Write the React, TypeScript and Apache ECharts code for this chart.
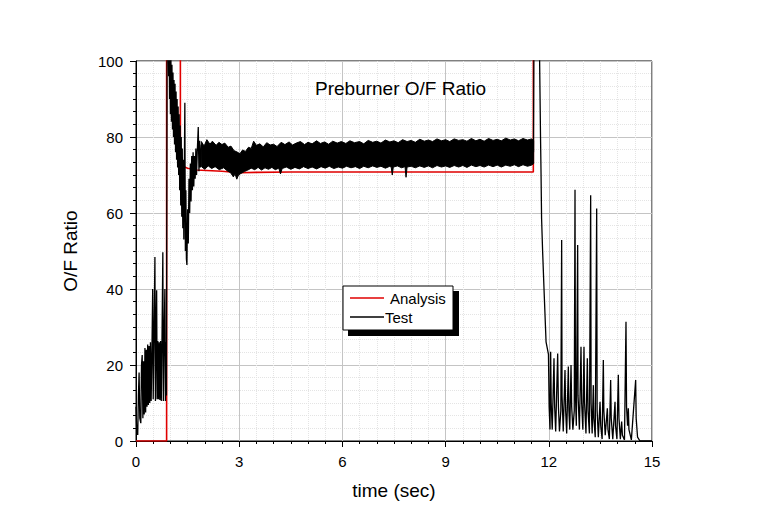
import React, { useEffect, useRef } from "react";
import * as echarts from "echarts";

// ---- data ----
const xTicks = [0, 3, 6, 9, 12, 15];
const yTicks = [0, 20, 40, 60, 80, 100];

// Analysis (red): [time, O/F]
const analysis: [number, number][] = [
  [0, 0], [0.89, 0], [0.89, 150], [1.29, 150], [1.29, 72.6], [1.5, 71.8],
  [1.76, 71.3], [2.5, 71.0], [3.0, 70.6], [3.5, 70.7], [4.5, 70.8],
  [11.55, 70.8], [11.55, 150], [15, 150],
];

// Test (black) – ignition oscillation 0 .. 0.9 s
const testIgnition: [number, number][] = [
  [0, 9], [0.02, 3], [0.05, 1.6], [0.07, 12], [0.09, 18], [0.11, 6], [0.14, 4.7],
  [0.16, 20], [0.18, 22.6], [0.2, 6], [0.22, 21], [0.24, 7], [0.26, 24.5],
  [0.28, 7.5], [0.3, 24], [0.32, 9], [0.34, 25.4], [0.36, 9.5], [0.38, 25],
  [0.4, 10], [0.42, 26], [0.44, 10.5], [0.465, 25], [0.485, 40], [0.5, 11],
  [0.52, 25.5], [0.55, 48.4], [0.565, 10.5], [0.58, 26], [0.6, 39.7],
  [0.615, 11], [0.635, 26.3], [0.655, 11], [0.675, 26], [0.695, 10.8],
  [0.715, 26.3], [0.735, 10.5], [0.755, 26], [0.78, 49.7], [0.795, 10.5],
  [0.815, 26], [0.84, 40], [0.855, 10.5], [0.875, 26], [0.885, 12],
  [0.895, 60], [0.905, 105],
];

// Test – start-up transient 0.9 .. 1.9 s
const testStartup: [number, number][] = [
  [0.905, 105], [0.93, 112], [0.95, 96], [0.96, 108], [0.975, 90], [0.99, 104],
  [1.0, 86], [1.015, 101], [1.03, 84], [1.045, 99], [1.06, 82], [1.075, 97],
  [1.09, 80], [1.105, 95], [1.12, 78], [1.135, 94], [1.15, 76], [1.165, 92],
  [1.18, 74], [1.195, 90], [1.21, 72], [1.225, 88], [1.24, 70], [1.255, 86],
  [1.27, 66], [1.285, 83], [1.3, 62], [1.315, 80], [1.33, 59], [1.345, 77],
  [1.36, 56], [1.375, 74], [1.39, 53], [1.405, 72], [1.42, 89], [1.435, 50],
  [1.45, 66], [1.465, 48], [1.48, 46.3], [1.5, 61], [1.52, 52], [1.54, 69],
  [1.56, 60], [1.58, 73], [1.6, 63], [1.62, 75], [1.64, 66], [1.66, 76],
  [1.68, 67], [1.7, 75], [1.72, 69], [1.74, 77], [1.76, 70], [1.78, 76],
  [1.81, 82.6], [1.83, 71], [1.85, 79], [1.87, 72], [1.9, 78],
];

// Test – steady-state noise band, upper and lower envelopes
const bandUpper: [number, number][] = [
  [1.9, 78.8], [1.98, 77.6], [2.06, 79.3], [2.15, 78.1], [2.22, 78.9], [2.33, 77.8],
  [2.41, 78.6], [2.5, 78.0], [2.58, 78.4], [2.68, 77.3], [2.76, 77.6], [2.85, 76.4],
  [2.93, 76.1], [3.02, 75.6], [3.1, 76.6], [3.18, 76.2], [3.27, 77.3], [3.35, 77.0],
  [3.42, 78.9], [3.5, 77.8], [3.6, 78.2], [3.7, 77.4], [3.8, 78.5], [3.9, 77.9],
  [4.0, 78.1], [4.1, 77.5], [4.22, 78.6], [4.33, 78.0], [4.45, 78.7], [4.55, 77.9],
  [4.66, 78.4], [4.78, 78.8], [4.9, 78.0], [5.0, 78.6], [5.12, 78.2], [5.25, 79.0],
  [5.36, 78.3], [5.48, 78.7], [5.6, 78.1], [5.72, 78.9], [5.85, 78.4], [5.97, 78.8],
  [6.1, 78.3], [6.22, 79.0], [6.35, 78.5], [6.5, 78.8], [6.62, 78.2], [6.75, 79.1],
  [6.88, 78.6], [7.0, 78.9], [7.12, 78.4], [7.25, 79.2], [7.38, 78.7], [7.5, 79.0],
  [7.62, 78.5], [7.75, 79.3], [7.88, 78.8], [8.0, 79.1], [8.12, 78.6], [8.25, 79.4],
  [8.38, 78.9], [8.5, 79.2], [8.62, 78.8], [8.75, 79.5], [8.88, 79.0], [9.0, 79.3],
  [9.12, 78.8], [9.25, 79.5], [9.38, 79.1], [9.5, 79.3], [9.62, 78.9], [9.75, 79.6],
  [9.88, 79.0], [10.0, 79.4], [10.12, 78.9], [10.25, 79.6], [10.38, 79.1], [10.5, 79.4],
  [10.62, 79.0], [10.75, 79.7], [10.88, 79.2], [11.0, 79.5], [11.12, 79.0], [11.25, 79.6],
  [11.38, 79.2], [11.5, 79.5], [11.56, 79.1],
];
const bandLower: [number, number][] = [
  [1.9, 72.2], [2.0, 71.5], [2.1, 72.4], [2.2, 71.7], [2.3, 72.2], [2.42, 71.4],
  [2.55, 71.9], [2.65, 71.1], [2.75, 70.6], [2.83, 69.5], [2.88, 70.3], [2.93, 68.9],
  [2.98, 70.0], [3.05, 70.4], [3.15, 70.9], [3.25, 71.3], [3.35, 71.8], [3.45, 71.4],
  [3.55, 72.0], [3.65, 71.3], [3.75, 71.9], [3.85, 71.5], [3.95, 72.0], [4.05, 71.4],
  [4.15, 71.8], [4.2, 70.3], [4.25, 71.7], [4.37, 72.1], [4.5, 71.5], [4.62, 72.0],
  [4.75, 71.6], [4.87, 72.2], [5.0, 71.7], [5.12, 72.1], [5.25, 71.6], [5.38, 72.2],
  [5.5, 71.8], [5.62, 72.3], [5.75, 71.7], [5.88, 72.1], [6.0, 71.8], [6.12, 72.3],
  [6.25, 71.9], [6.38, 72.2], [6.5, 71.7], [6.62, 72.3], [6.75, 71.9], [6.88, 72.4],
  [7.0, 72.0], [7.12, 72.3], [7.25, 71.8], [7.38, 72.3], [7.42, 72.0], [7.45, 70.0],
  [7.48, 72.1], [7.6, 72.4], [7.72, 71.9], [7.82, 72.2], [7.85, 69.4], [7.88, 72.1],
  [8.0, 72.3], [8.12, 71.9], [8.25, 72.4], [8.38, 72.0], [8.5, 72.4], [8.62, 71.9],
  [8.75, 72.5], [8.88, 72.1], [9.0, 72.4], [9.12, 72.0], [9.25, 72.5], [9.38, 72.1],
  [9.5, 72.5], [9.62, 72.0], [9.75, 72.6], [9.88, 72.2], [10.0, 72.5], [10.12, 72.1],
  [10.25, 72.6], [10.38, 72.2], [10.5, 72.6], [10.62, 72.1], [10.75, 72.6], [10.88, 72.3],
  [11.0, 72.7], [11.12, 72.2], [11.25, 72.7], [11.38, 72.3], [11.5, 72.6], [11.56, 73.0],
];

// Test – shut-down transient
const testShutdown: [number, number][] = [
  [11.555, 76], [11.57, 110], [11.72, 110], [11.76, 79.7], [11.775, 70],
  [11.79, 58.6], [11.82, 50], [11.86, 40.2], [11.92, 26.1], [11.99, 22.8],
];

// Test – post shut-down oscillation
const testTail: [number, number][] = [
  [12.01, 9], [12.035, 3], [12.054, 23.5], [12.07, 10], [12.1, 3], [12.151, 21.8],
  [12.17, 9], [12.2, 2.5], [12.258, 23.0], [12.28, 9], [12.31, 2.5], [12.35, 8],
  [12.374, 52.9], [12.385, 12], [12.42, 2.5], [12.471, 18.7], [12.49, 8],
  [12.52, 2], [12.568, 19.6], [12.585, 8], [12.61, 3], [12.646, 20.0],
  [12.665, 9], [12.7, 3], [12.74, 8], [12.762, 66.1], [12.775, 12], [12.8, 4],
  [12.839, 51.6], [12.85, 12], [12.89, 3], [12.936, 24.8], [12.955, 10],
  [12.99, 3], [13.023, 24.8], [13.04, 10], [13.08, 2], [13.12, 21.8],
  [13.14, 8], [13.18, 2], [13.217, 64.7], [13.23, 10], [13.26, 2],
  [13.295, 14.7], [13.31, 6], [13.35, 1], [13.392, 61.2], [13.405, 8],
  [13.44, 1], [13.489, 10.3], [13.51, 4], [13.55, 0.5], [13.585, 21.3],
  [13.6, 8], [13.64, 1.5], [13.702, 8.6], [13.72, 3], [13.76, 0.5],
  [13.798, 16.05], [13.815, 6], [13.86, 0.5], [13.925, 10.3], [13.94, 4],
  [13.98, 0.5], [14.021, 17.4], [14.04, 6], [14.08, 0.5], [14.118, 5.1],
  [14.14, 1.5], [14.2, 0.3], [14.244, 31.4], [14.26, 9], [14.29, 4],
  [14.312, 8.6], [14.33, 3], [14.4, 0.3], [14.525, 16.05], [14.54, 6],
  [14.58, 1], [14.65, 0], [15, 0],
];

const FONT = "'Liberation Sans', Arial, sans-serif";

export default function App() {
  const ref = useRef<HTMLDivElement>(null);

  useEffect(() => {
    if (!ref.current) return;
    const chart = echarts.init(ref.current, null, { renderer: "svg" });

    const axisCommon = {
      axisLine: { show: true, lineStyle: { color: "#000", width: 1 } },
      axisTick: { show: true, inside: false, length: 6, lineStyle: { color: "#000", width: 1 } },
      minorTick: { show: true, splitNumber: 6, length: 3, lineStyle: { color: "#000", width: 1 } },
      splitLine: { show: true, lineStyle: { color: "#c4c4c4", width: 1 } },
      minorSplitLine: { show: true, lineStyle: { color: "#e4e4e4", width: 1, type: "dotted" as const } },
      axisLabel: { color: "#000", fontSize: 15, fontFamily: FONT, margin: 13 },
      nameTextStyle: { color: "#000", fontSize: 19, fontFamily: FONT },
    };

    chart.setOption({
      animation: false,
      backgroundColor: "#fff",
      title: {
        text: "Preburner O/F Ratio",
        left: 310,
        top: 74,
        textStyle: { color: "#000", fontSize: 19, fontWeight: "normal", fontFamily: FONT },
      },
      grid: {
        left: 136,
        top: 61,
        right: 106,
        bottom: 89,
        show: true,
        borderColor: "#000",
        borderWidth: 1,
        backgroundColor: "transparent",
      },
      xAxis: {
        type: "value",
        min: xTicks[0],
        max: xTicks[xTicks.length - 1],
        interval: xTicks[1] - xTicks[0],
        name: "time (sec)",
        nameLocation: "middle",
        nameGap: 40,
        ...axisCommon,
      },
      yAxis: {
        type: "value",
        min: yTicks[0],
        max: yTicks[yTicks.length - 1],
        interval: yTicks[1] - yTicks[0],
        name: "O/F Ratio",
        nameLocation: "middle",
        nameGap: 56,
        ...axisCommon,
      },
      graphic: [
        { type: "rect", shape: { x: 348, y: 291, width: 111, height: 45 }, style: { fill: "#000" }, z: 100 },
        { type: "rect", shape: { x: 343, y: 286, width: 110, height: 44 }, style: { fill: "#fff", stroke: "#000", lineWidth: 1 }, z: 101 },
        { type: "line", shape: { x1: 350, y1: 298, x2: 384, y2: 298 }, style: { stroke: "#e00000", lineWidth: 1.5 }, z: 102 },
        { type: "text", x: 390, y: 298, style: { text: "Analysis", fill: "#000", font: `15px ${FONT}`, verticalAlign: "middle" }, z: 102 },
        { type: "line", shape: { x1: 350, y1: 317, x2: 384, y2: 317 }, style: { stroke: "#000", lineWidth: 1.5 }, z: 102 },
        { type: "text", x: 385, y: 317, style: { text: "Test", fill: "#000", font: `15px ${FONT}`, verticalAlign: "middle" }, z: 102 },
      ],
      series: [
        {
          name: "Analysis",
          type: "line",
          data: analysis,
          showSymbol: false,
          symbol: "none",
          lineStyle: { color: "#e00000", width: 1.6 },
          z: 2,
        },
        {
          name: "Test",
          type: "line",
          data: [...testIgnition, ...testStartup.slice(1)],
          showSymbol: false,
          symbol: "none",
          lineStyle: { color: "#000", width: 1.3 },
          z: 3,
        },
        {
          name: "Test band",
          type: "custom",
          data: bandUpper,
          renderItem: (params: any, api: any) => {
            if (params.dataIndex !== 0) return null;
            const pts = [
              ...bandUpper.map((p) => api.coord(p)),
              ...bandLower.slice().reverse().map((p) => api.coord(p)),
            ];
            return {
              type: "polygon",
              shape: { points: pts },
              style: { fill: "#000", stroke: "#000", lineWidth: 1 },
            };
          },
          z: 3,
        },
        {
          name: "Test end",
          type: "line",
          data: [...testShutdown, ...testTail],
          showSymbol: false,
          symbol: "none",
          lineStyle: { color: "#000", width: 1.3 },
          z: 3,
        },
      ],
    });

    return () => chart.dispose();
  }, []);

  return (
    <div
      ref={ref}
      style={{ position: "absolute", left: 0, top: 0, width: 758, height: 530, background: "#fff" }}
    />
  );
}
